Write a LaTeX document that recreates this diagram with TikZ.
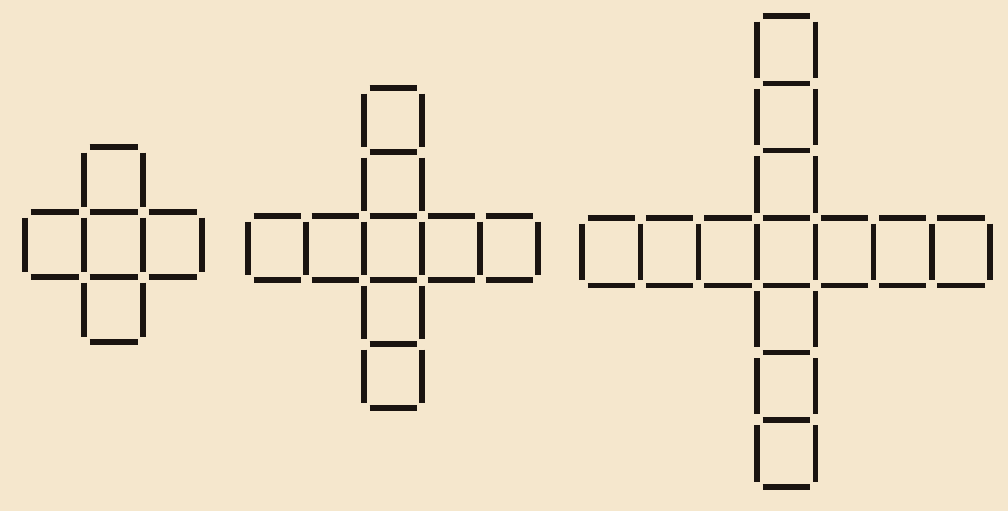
\documentclass[tikz,border=0pt]{standalone}
\definecolor{bg}{HTML}{F5E7CD}
\definecolor{stick}{HTML}{1A1410}
\tikzset{match/.style={line width=5.5pt, draw=stick, line cap=butt}}
\newcommand\mcGap{5.5}
\newcommand\matchcross[5]{%
\begin{scope}[shift={(#1,#2)}]
 \pgfmathsetmacro\mcW{#3}\pgfmathsetmacro\mcH{#4}
 \pgfmathtruncatemacro\mcN{#5}
 \pgfmathtruncatemacro\mcM{#5+1}
 \pgfmathtruncatemacro\mcL{-#5}
 % horizontal arm: top and bottom edges
 \foreach \i in {\mcL,...,\mcN}{
   \draw[match] ({\i*\mcW+\mcGap},0) -- ({(\i+1)*\mcW-\mcGap},0);
   \draw[match] ({\i*\mcW+\mcGap},\mcH) -- ({(\i+1)*\mcW-\mcGap},\mcH);
 }
 % horizontal arm: vertical edges
 \foreach \i in {\mcL,...,\mcM}{
   \draw[match] ({\i*\mcW},\mcGap) -- ({\i*\mcW},{\mcH-\mcGap});
 }
 % vertical arm: vertical edges
 \foreach \j in {\mcL,...,\mcN}{
   \ifnum\j=0\else
   \draw[match] (0,{\j*\mcH+\mcGap}) -- (0,{(\j+1)*\mcH-\mcGap});
   \draw[match] (\mcW,{\j*\mcH+\mcGap}) -- (\mcW,{(\j+1)*\mcH-\mcGap});
   \fi
 }
 % vertical arm: horizontal edges
 \foreach \j in {\mcL,...,\mcM}{
   \ifnum\j=0\else\ifnum\j=1\else
   \draw[match] (\mcGap,{\j*\mcH}) -- ({\mcW-\mcGap},{\j*\mcH});
   \fi\fi
 }
\end{scope}}
\begin{document}
\begin{tikzpicture}[x=1pt,y=-1pt]
\fill[bg] (0,0) rectangle (1008,511);
\useasboundingbox (0,0) rectangle (1008,511);
\matchcross{84}{212}{59}{65}{1}
\matchcross{364}{216}{58}{64}{2}
\matchcross{757}{218}{58.3}{67.3}{3}
\end{tikzpicture}
\end{document}
